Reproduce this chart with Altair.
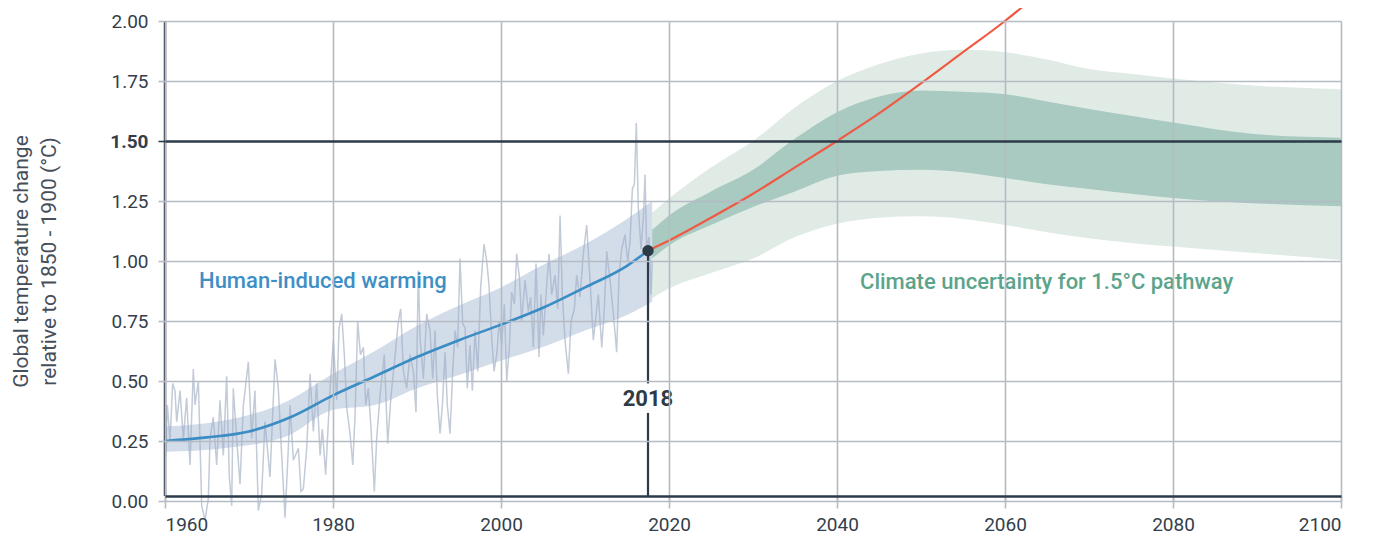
import altair as alt
import pandas as pd

# ---------------- data ----------------
# observed (monthly-ish) global temperature, read from picture
obs_year = [1960.00, 1960.28, 1960.60, 1960.91, 1961.19, 1961.39, 1961.79, 1962.18, 1962.58, 1962.98,
            1963.37, 1963.57, 1963.97, 1964.37, 1964.76, 1965.16, 1965.36, 1965.75, 1966.15, 1966.55,
            1966.94, 1967.34, 1967.66, 1967.94, 1968.13, 1968.53, 1968.93, 1969.33, 1969.92, 1970.32,
            1970.71, 1971.11, 1971.51, 1971.90, 1972.50, 1973.10, 1973.49, 1973.89, 1974.29, 1974.68,
            1974.89, 1975.28, 1975.88, 1976.19, 1976.47, 1976.87, 1977.27, 1977.66, 1978.06, 1978.46,
            1978.73, 1979.13, 1979.65, 1980.04, 1980.44, 1980.72, 1981.04, 1981.35, 1981.63, 1982.03,
            1982.35, 1982.62, 1982.94, 1983.26, 1983.62, 1983.89, 1984.21, 1984.53, 1984.92, 1985.20,
            1985.60, 1986.11, 1986.51, 1986.91, 1987.38, 1987.78, 1988.06, 1988.38, 1988.77, 1989.17,
            1989.57, 1989.88, 1990.16, 1990.36, 1990.76, 1991.15, 1991.55, 1991.87, 1992.15, 1992.42,
            1992.74, 1993.02, 1993.34, 1993.61, 1993.93, 1994.25, 1994.53, 1994.84, 1995.12, 1995.44,
            1995.72, 1995.99, 1996.31, 1996.59, 1996.91, 1997.23, 1997.58, 1997.98, 1998.30, 1998.57,
            1998.89, 1999.17, 1999.49, 1999.80, 2000.08, 2000.40, 2000.68, 2000.99, 2001.27, 2001.59,
            2001.87, 2002.19, 2002.46, 2002.86, 2003.26, 2003.53, 2003.85, 2004.17, 2004.53, 2004.76,
            2005.04, 2005.44, 2005.72, 2006.03, 2006.43, 2006.75, 2007.03, 2007.30, 2007.62, 2008.02,
            2008.34, 2008.73, 2009.01, 2009.41, 2009.80, 2010.20, 2010.60, 2010.99, 2011.39, 2011.59,
            2011.99, 2012.30, 2012.58, 2012.98, 2013.38, 2013.77, 2014.05, 2014.37, 2014.76, 2015.08,
            2015.36, 2015.64, 2015.88, 2016.11, 2016.35, 2016.67, 2016.95, 2017.15, 2017.34, 2017.62,
            2017.86, 2018.02]
obs_val = [0.15, 0.40, 0.25, 0.49, 0.46, 0.33, 0.46, 0.26, 0.43, 0.15,
           0.55, 0.40, 0.50, -0.02, -0.08, 0.01, 0.26, 0.35, 0.15, 0.42,
           0.19, 0.52, 0.10, -0.02, 0.47, 0.26, 0.07, 0.40, 0.58, 0.26,
           0.46, -0.04, 0.03, 0.33, 0.10, 0.59, 0.47, 0.19, -0.07, 0.22,
           0.40, 0.17, 0.22, 0.04, 0.05, 0.22, 0.53, 0.29, 0.49, 0.19,
           0.30, 0.11, 0.47, 0.67, 0.42, 0.72, 0.78, 0.61, 0.39, 0.28,
           0.15, 0.35, 0.75, 0.61, 0.64, 0.40, 0.47, 0.30, 0.04, 0.26,
           0.44, 0.61, 0.24, 0.44, 0.60, 0.75, 0.80, 0.54, 0.47, 0.61,
           0.54, 0.37, 0.96, 0.68, 0.51, 0.78, 0.71, 0.51, 0.71, 0.44,
           0.28, 0.40, 0.62, 0.40, 0.28, 0.54, 0.71, 0.64, 1.01, 0.74,
           0.72, 0.47, 0.65, 0.46, 0.71, 0.54, 0.89, 1.07, 1.00, 0.90,
           0.68, 0.54, 0.61, 0.75, 0.65, 0.82, 0.50, 0.64, 0.87, 0.82,
           1.03, 0.93, 0.75, 0.92, 0.79, 0.85, 0.64, 0.99, 0.60, 0.86,
           0.69, 0.90, 1.03, 0.86, 0.94, 0.80, 1.19, 0.86, 0.67, 0.53,
           0.75, 0.80, 0.94, 0.85, 1.03, 1.15, 0.92, 0.67, 0.80, 0.86,
           0.64, 0.80, 1.04, 0.92, 0.78, 0.62, 0.94, 1.05, 1.11, 1.00,
           1.08, 1.30, 1.32, 1.575, 1.22, 1.05, 1.18, 1.36, 1.05, 1.10,
           0.86, 1.00]

# human-induced warming: central line and likely range
warm_year = [1960, 1965, 1970, 1975, 1980, 1985, 1990, 1995, 2000, 2005, 2010, 2015, 2017.5]
warm_val = [0.25, 0.265, 0.29, 0.35, 0.44, 0.52, 0.60, 0.67, 0.735, 0.805, 0.89, 0.98, 1.043]
band_year = [1960, 1967, 1974.5, 1980, 1985, 1990, 1995, 2000, 2004.5, 2010, 2015, 2018]
band_lo = [0.205, 0.22, 0.27, 0.38, 0.40, 0.47, 0.525, 0.585, 0.635, 0.71, 0.775, 0.83]
band_hi = [0.31, 0.335, 0.415, 0.53, 0.625, 0.73, 0.815, 0.89, 0.975, 1.07, 1.175, 1.25]

# current-rate projection (red)
red_year = [2017.5, 2020, 2025, 2030, 2035, 2040, 2045, 2050, 2055, 2060, 2063.5]
red_val = [1.043, 1.085, 1.18, 1.28, 1.39, 1.50, 1.615, 1.74, 1.87, 2.00, 2.10]

# climate uncertainty for 1.5C pathway
g_year = [2018, 2020, 2025, 2030, 2035, 2040, 2045, 2050, 2055, 2060, 2065, 2070, 2075, 2080, 2090, 2100]
lg_hi = [1.20, 1.26, 1.39, 1.50, 1.64, 1.75, 1.82, 1.865, 1.88, 1.87, 1.84, 1.80, 1.78, 1.76, 1.73, 1.716]
dg_hi = [1.13, 1.19, 1.29, 1.38, 1.51, 1.62, 1.685, 1.71, 1.705, 1.695, 1.665, 1.633, 1.605, 1.577, 1.528, 1.514]
dg_lo = [1.01, 1.065, 1.15, 1.225, 1.29, 1.355, 1.375, 1.38, 1.37, 1.346, 1.32, 1.30, 1.28, 1.263, 1.24, 1.228]
lg_lo = [0.845, 0.885, 0.95, 1.01, 1.10, 1.155, 1.18, 1.186, 1.175, 1.15, 1.12, 1.095, 1.075, 1.06, 1.032, 1.004]

x_ticks = [1960, 1980, 2000, 2020, 2040, 2060, 2080, 2100]
y_ticks = [0, 0.25, 0.5, 0.75, 1.0, 1.25, 1.5, 1.75, 2.0]

marker_year = 2017.5
marker_val = 1.043
marker_label = "2018"
marker_label_val = 0.425
rule_segments = [(1.043, 0.49), (0.367, 0.021)]

labels = [
    {"x": 1964.05, "y": 0.917, "text": "Human-induced warming", "color": "#3d8fc6"},
    {"x": 2042.74, "y": 0.9125, "text": "Climate uncertainty for 1.5°C pathway", "color": "#5ba48c"},
]

# ---------------- styling ----------------
DARK = "#2d3a47"
GRID = "#b4bbc4"
FONT = "Roboto"

obs_df = pd.DataFrame({"x": obs_year, "y": obs_val})
warm_df = pd.DataFrame({"x": warm_year, "y": warm_val})
band_df = pd.DataFrame({"x": band_year, "lo": band_lo, "hi": band_hi})
red_df = pd.DataFrame({"x": red_year, "y": red_val})
g_df = pd.DataFrame({"x": g_year, "lg_lo": lg_lo, "lg_hi": lg_hi, "dg_lo": dg_lo, "dg_hi": dg_hi})
rule_df = pd.DataFrame({"x": [marker_year] * len(rule_segments),
                        "y": [s[0] for s in rule_segments], "y2": [s[1] for s in rule_segments]})
dot_df = pd.DataFrame({"x": [marker_year], "y": [marker_val]})
mlab_df = pd.DataFrame({"x": [marker_year], "y": [marker_label_val], "text": [marker_label]})
lab_df = pd.DataFrame(labels)
yaxis_df = pd.DataFrame({"x": [x_ticks[0]], "y": [0.021], "y2": [y_ticks[-1]]})

xscale = alt.Scale(domain=[x_ticks[0], x_ticks[-1]], nice=False, zero=False)
yscale = alt.Scale(domain=[y_ticks[0], y_ticks[-1]], nice=False, zero=False)

x_axis = alt.Axis(values=x_ticks, format="d", grid=True, gridColor=GRID, gridWidth=1.6,
                  domainColor=DARK, domainWidth=2.5, tickColor=GRID, tickWidth=1.6, tickSize=12,
                  labelFont=FONT, labelFontSize=19, labelColor="#333e4a", labelPadding=7,
                  offset=-5, zindex=1, title=None)
y_axis = alt.Axis(values=y_ticks, format=".2f", grid=True,
                  gridColor=alt.condition("datum.value == 1.5", alt.value(DARK), alt.value(GRID)),
                  gridWidth=alt.condition("datum.value == 1.5", alt.value(2.6), alt.value(1.6)),
                  tickColor=alt.condition("datum.value == 1.5", alt.value(DARK), alt.value(GRID)),
                  tickWidth=1.6, tickSize=7, domain=False,
                  labelFont=FONT, labelFontSize=19, labelColor="#333e4a", labelPadding=10,
                  labelFontWeight=alt.condition("datum.value == 1.5", alt.value("bold"), alt.value("normal")),
                  title=["Global temperature change", "relative to 1850 - 1900 (°C)"],
                  titleFont=FONT, titleFontSize=21, titleFontWeight="normal", titleColor="#454e59",
                  titleLineHeight=28, titlePadding=50, zindex=1)

base_x = alt.X("x:Q", scale=xscale, axis=x_axis)

light_g = alt.Chart(g_df).mark_area(color="#e0ebe6", interpolate="monotone").encode(
    x=base_x, y=alt.Y("lg_lo:Q", scale=yscale, axis=y_axis), y2="lg_hi:Q")
dark_g = alt.Chart(g_df).mark_area(color="#a9cac0", interpolate="monotone").encode(
    x="x:Q", y=alt.Y("dg_lo:Q", scale=yscale), y2="dg_hi:Q")
obs = alt.Chart(obs_df).mark_line(color="#c3cbd8", strokeWidth=1.5).encode(x="x:Q", y="y:Q")
band = alt.Chart(band_df).mark_area(color="#98afcb", opacity=0.43, interpolate="monotone").encode(
    x="x:Q", y=alt.Y("lo:Q", scale=yscale), y2="hi:Q")
warm = alt.Chart(warm_df).mark_line(color="#3a8dc4", strokeWidth=2.6, interpolate="monotone").encode(
    x="x:Q", y="y:Q")
red = alt.Chart(red_df).mark_line(color="#ef5a45", strokeWidth=2.2, interpolate="monotone").encode(
    x="x:Q", y="y:Q")
yline = alt.Chart(yaxis_df).mark_rule(color=DARK, strokeWidth=2.5).encode(x="x:Q", y="y:Q", y2="y2:Q")
mrule = alt.Chart(rule_df).mark_rule(color=DARK, strokeWidth=2.2).encode(x="x:Q", y="y:Q", y2="y2:Q")
dot = alt.Chart(dot_df).mark_point(filled=True, color=DARK, size=130, opacity=1).encode(x="x:Q", y="y:Q")
mlab = alt.Chart(mlab_df).mark_text(font=FONT, fontSize=22, fontWeight="bold", color=DARK,
                                    align="center", baseline="middle").encode(x="x:Q", y="y:Q", text="text:N")
labs = alt.Chart(lab_df).mark_text(font=FONT, fontSize=22, fontWeight=500, align="left",
                                   baseline="middle").encode(
    x="x:Q", y="y:Q", text="text:N", color=alt.Color("color:N", scale=None))

chart = alt.layer(light_g, dark_g, obs, band, warm, red, yline, mrule, dot, mlab, labs).properties(
    width=1176, height=480,
    autosize=alt.AutoSizeParams(type="none"),
    padding={"left": 157, "top": 13, "right": 25, "bottom": 33},
).configure_view(stroke=None)

chart.save("out.html", embed_options={"renderer": "svg", "actions": False})
